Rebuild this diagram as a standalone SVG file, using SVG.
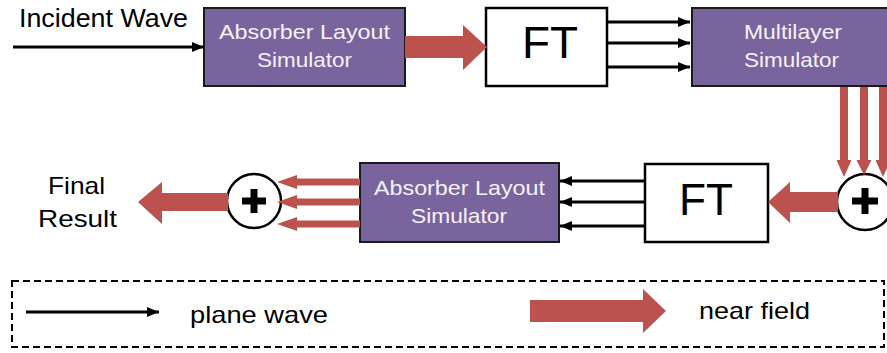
<svg xmlns="http://www.w3.org/2000/svg" width="887" height="353" viewBox="0 0 887 353">
<style>
.t{font-family:"Liberation Sans",Arial,sans-serif;fill:#000}
.w{font-family:"Liberation Sans",Arial,sans-serif;fill:#f4f2f8;font-size:21px}
.purple{fill:#7a649e;stroke:#1a1a1a;stroke-width:2}
.box{fill:#fff;stroke:#000;stroke-width:2.5}
.line{stroke:#000;stroke-width:3;fill:none;marker-end:url(#ah)}
.red{fill:#bb524e}
.circ{fill:#fff;stroke:#000;stroke-width:2.5}
.plus{stroke:#000;stroke-width:7}
</style>
<defs>
<marker id="ah" viewBox="0 0 12 10" refX="12" refY="5" markerWidth="12" markerHeight="10" markerUnits="userSpaceOnUse" orient="auto">
<path d="M0,0 L12,5 L0,10 Z" fill="#000"/>
</marker>
</defs>

<g id="label-incident">
<text class="t" x="19" y="27" font-size="26" textLength="169" lengthAdjust="spacingAndGlyphs">Incident Wave</text>
</g>

<g id="absorber1">
<rect class="purple" x="204" y="8" width="201" height="78"/>
<text class="w" x="219" y="39" textLength="171" lengthAdjust="spacingAndGlyphs">Absorber Layout</text>
<text class="w" x="257" y="67" textLength="95" lengthAdjust="spacingAndGlyphs">Simulator</text>
</g>

<g id="ft1">
<rect class="box" x="486" y="8" width="121" height="78"/>
<text class="t" x="522" y="58" font-size="44" textLength="56" lengthAdjust="spacingAndGlyphs">FT</text>
</g>

<g id="multilayer">
<rect class="purple" x="692" y="8" width="202" height="78"/>
<text class="w" x="744" y="39" textLength="98" lengthAdjust="spacingAndGlyphs">Multilayer</text>
<text class="w" x="744" y="67" textLength="95" lengthAdjust="spacingAndGlyphs">Simulator</text>
</g>

<g id="sum-right">
<circle class="circ" cx="865" cy="202" r="28"/>
<line class="plus" x1="852" y1="201" x2="878" y2="201"/>
<line class="plus" x1="865" y1="188" x2="865" y2="214"/>
</g>

<g id="ft2">
<rect class="box" x="645" y="164" width="123" height="78"/>
<text class="t" x="679" y="215" font-size="44" textLength="54" lengthAdjust="spacingAndGlyphs">FT</text>
</g>

<g id="absorber2">
<rect class="purple" x="360" y="163" width="199" height="79"/>
<text class="w" x="374" y="195" textLength="171" lengthAdjust="spacingAndGlyphs">Absorber Layout</text>
<text class="w" x="411" y="223" textLength="96" lengthAdjust="spacingAndGlyphs">Simulator</text>
</g>

<g id="sum-left">
<circle class="circ" cx="254" cy="201" r="27"/>
<line class="plus" x1="242" y1="201" x2="266" y2="201"/>
<line class="plus" x1="254" y1="189" x2="254" y2="213"/>
</g>

<g id="final-result">
<text class="t" x="48" y="194" font-size="24" textLength="57" lengthAdjust="spacingAndGlyphs">Final</text>
<text class="t" x="38" y="227" font-size="24" textLength="79" lengthAdjust="spacingAndGlyphs">Result</text>
</g>

<g id="connectors">
<line class="line" x1="13" y1="47" x2="204" y2="47"/>
<polygon class="red" points="405,36 463,36 463,25 487,47 463,70 463,58 405,58"/>
<line class="line" x1="607" y1="22" x2="690" y2="22"/>
<line class="line" x1="607" y1="43" x2="690" y2="43"/>
<line class="line" x1="607" y1="67" x2="690" y2="67"/>
<polygon class="red" points="840,87 848,87 848,160 851.5,160 844,177 836.5,160 840,160"/>
<polygon class="red" points="860,87 868,87 868,160 871.5,160 864,175 856.5,160 860,160"/>
<polygon class="red" points="879,87 887,87 887,160 890.5,160 883,177 875.5,160 879,160"/>
<polygon class="red" points="838,192 790,192 790,182 768,202 790,223 790,212 838,212"/>
<line class="line" x1="645" y1="181" x2="560" y2="181"/>
<line class="line" x1="645" y1="202" x2="560" y2="202"/>
<line class="line" x1="645" y1="226" x2="560" y2="226"/>
<polygon class="red" points="360,178.5 297,178.5 297,175 277,182 297,189 297,185.5 360,185.5"/>
<polygon class="red" points="360,198.5 297,198.5 297,195 277,202 297,209 297,205.5 360,205.5"/>
<polygon class="red" points="360,220.5 297,220.5 297,217 277,224 297,231 297,227.5 360,227.5"/>
<polygon class="red" points="228,193 162,193 162,182 138,202 162,224 162,211 228,211"/>
</g>

<g id="legend">
<rect x="12" y="281" width="872" height="66" fill="none" stroke="#000" stroke-width="2" stroke-dasharray="7,4"/>
<line class="line" x1="26" y1="312" x2="159" y2="312"/>
<text class="t" x="190" y="323" font-size="24" textLength="138" lengthAdjust="spacingAndGlyphs">plane wave</text>
<polygon class="red" points="530,300 643,300 643,289 666,311 643,333 643,322 530,322"/>
<text class="t" x="699" y="319" font-size="24" textLength="111" lengthAdjust="spacingAndGlyphs">near field</text>
</g>
</svg>
